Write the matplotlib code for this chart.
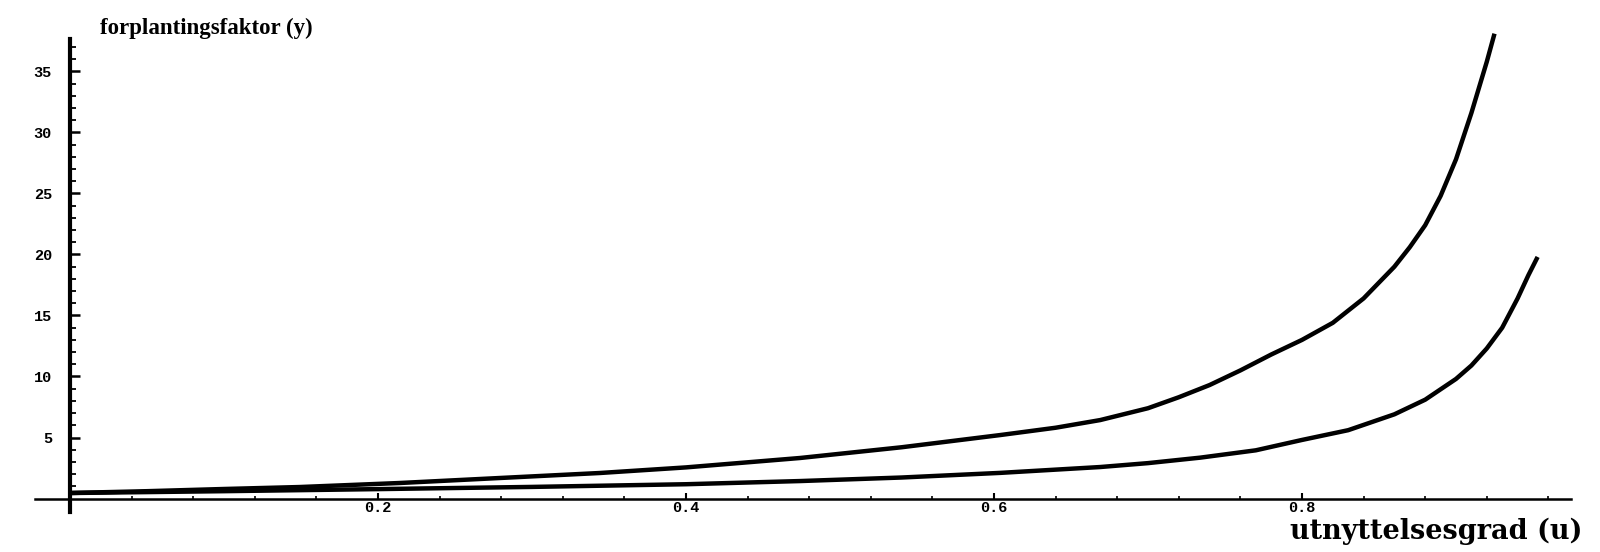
"""Forplantingsfaktor y vs utnyttelsesgrad u -- two curves, Mathematica-style axes."""
import numpy as np
import matplotlib
matplotlib.use("Agg")
import matplotlib.pyplot as plt

# values
u_upper = [0.0, 0.05, 0.10, 0.149, 0.214, 0.279, 0.344, 0.40, 0.474, 0.54, 0.604,
           0.64, 0.669, 0.70, 0.72, 0.74, 0.76, 0.78, 0.80, 0.82, 0.84, 0.86,
           0.87, 0.88, 0.89, 0.90, 0.91, 0.92, 0.925]
y_upper = [0.45, 0.6, 0.78, 0.94, 1.27, 1.68, 2.09, 2.55, 3.32, 4.2, 5.2,
           5.8, 6.43, 7.4, 8.3, 9.3, 10.5, 11.8, 13.0, 14.4, 16.4, 19.0,
           20.6, 22.4, 24.8, 27.8, 31.6, 35.8, 38.1]
u_lower = [0.0, 0.10, 0.20, 0.30, 0.40, 0.474, 0.54, 0.604, 0.669, 0.70, 0.734,
           0.77, 0.80, 0.83, 0.86, 0.88, 0.90, 0.91, 0.92, 0.93, 0.94, 0.947, 0.953]
y_lower = [0.45, 0.6, 0.77, 0.95, 1.17, 1.43, 1.72, 2.1, 2.58, 2.9, 3.35,
           3.95, 4.8, 5.6, 6.9, 8.1, 9.8, 10.9, 12.3, 14.0, 16.4, 18.3, 19.8]
x_ticks = [0.2, 0.4, 0.6, 0.8]
x_ticklabels = ["0.2", "0.4", "0.6", "0.8"]
y_ticks = [5, 10, 15, 20, 25, 30, 35]
y_label = "forplantingsfaktor (y)"
x_label = "utnyttelsesgrad (u)"

TICKFONT = dict(family="Liberation Mono", weight="bold", size=11)

fig = plt.figure(figsize=(16, 5.52), dpi=100)
ax = fig.add_axes([0, 0, 1, 1])
ax.set_xlim(-0.04545, 0.99351)
ax.set_ylim(-4.385, 40.86)

ax.plot(u_upper, y_upper, color="black", lw=3.2, solid_capstyle="butt")
ax.plot(u_lower, y_lower, color="black", lw=3.2, solid_capstyle="butt")

for s in ["top", "right"]:
    ax.spines[s].set_visible(False)
ax.spines["left"].set_position(("data", 0))
ax.spines["left"].set_bounds(-1.1, 37.7)
ax.spines["left"].set_linewidth(3)
ax.spines["bottom"].set_position(("data", 0))
ax.spines["bottom"].set_bounds(-0.023, 0.975)
ax.spines["bottom"].set_linewidth(1.8)

ax.set_xticks(x_ticks)
ax.set_xticklabels(x_ticklabels, fontdict=TICKFONT)
ax.set_xticks([m for m in np.arange(0.04, 0.97, 0.04) if min(abs(m - t) for t in x_ticks) > 0.01], minor=True)
ax.set_yticks(y_ticks)
ax.set_yticklabels([str(t) for t in y_ticks], fontdict=TICKFONT)
ax.set_yticks([m for m in range(1, 38) if m % 5], minor=True)

ax.tick_params(axis="x", which="major", direction="in", length=4, width=1.5, pad=2)
ax.tick_params(axis="x", which="minor", direction="in", length=2, width=1.2)
ax.tick_params(axis="y", which="major", direction="in", length=7, width=1.8, pad=13)
ax.tick_params(axis="y", which="minor", direction="in", length=4, width=1.3)

fig.text(100 / 1600, 1 - 28 / 552, y_label, ha="left", va="center",
         family="Liberation Serif", weight="bold", size=16.5)
fig.text(1583 / 1600, 1 - 531 / 552, x_label, ha="right", va="center",
         family="DejaVu Serif", weight="bold", size=19.5)

fig.savefig("out.png", dpi=100)
print("saved out.png")
